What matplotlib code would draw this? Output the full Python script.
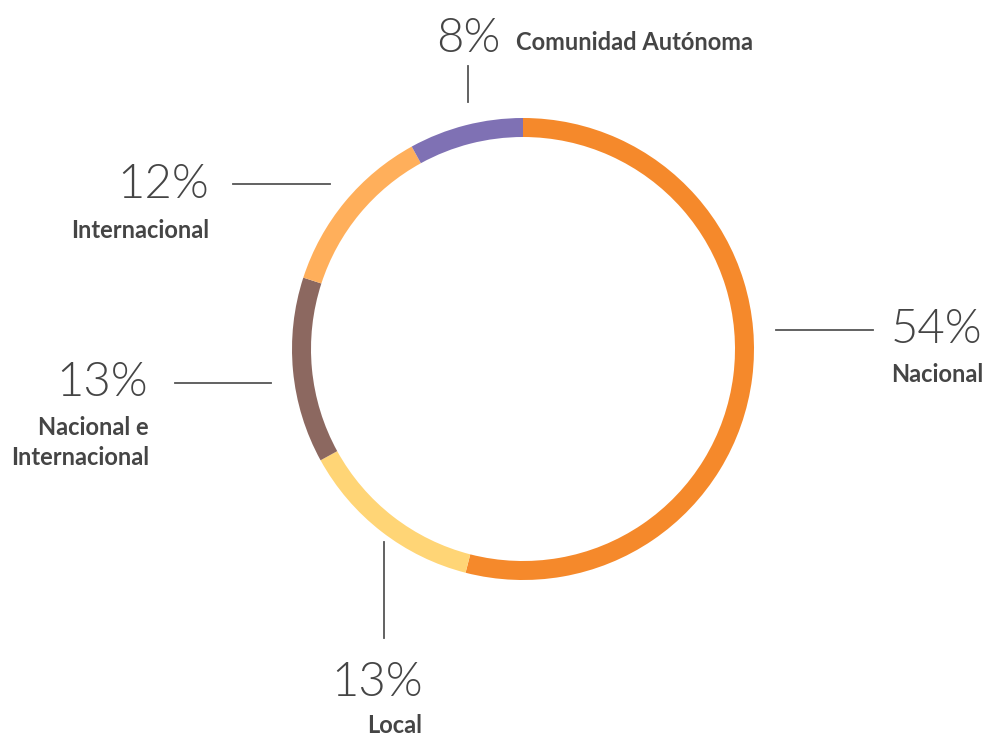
import matplotlib
matplotlib.use("Agg")
import matplotlib.pyplot as plt

# Share of entities by scope of activity
categories = ["Nacional", "Local", "Nacional e\nInternacional", "Internacional", "Comunidad Autónoma"]
values = [54, 13, 13, 12, 8]
colors = ["#F5892B", "#FFD576", "#8C6860", "#FFAF5B", "#7F71B4"]
pct_labels = [f"{v}%" for v in values]

W, H = 986, 736
fig = plt.figure(figsize=(W / 100, H / 100), dpi=100)
ax = fig.add_axes([0, 0, 1, 1])
ax.axis("off")

cx, cy = 523, H - 349
ax.pie(values, colors=colors, radius=231, center=(cx, cy), startangle=90,
       counterclock=False, wedgeprops=dict(width=19, linewidth=0))
ax.set_xlim(0, W)
ax.set_ylim(0, H)
ax.set_aspect("equal")

text_color = "#454545"
line_color = "#555555"
pct_kw = dict(fontfamily="Lato", fontweight=300, fontsize=34, color=text_color, va="baseline")
lab_kw = dict(fontfamily="Lato", fontweight=700, fontsize=17, color=text_color, va="baseline")


def y(p):
    return H - p


# Nacional
ax.plot([776, 873], [y(330), y(330)], color=line_color, lw=1.3)
ax.text(937, y(343), pct_labels[0], ha="center", **pct_kw)
ax.text(983, y(382), categories[0], ha="right", **lab_kw)

# Local
ax.plot([384, 384], [y(542), y(638)], color=line_color, lw=1.3)
ax.text(377, y(696), pct_labels[1], ha="center", **pct_kw)
ax.text(395, y(733), categories[1], ha="center", **lab_kw)

# Nacional e Internacional
ax.plot([175, 271], [y(383), y(383)], color=line_color, lw=1.3)
ax.text(148, y(396), pct_labels[2], ha="right", **pct_kw)
first, second = categories[2].split("\n")
ax.text(149, y(435), first, ha="right", **lab_kw)
ax.text(149, y(465), second, ha="right", **lab_kw)

# Internacional
ax.plot([233, 330], [y(184), y(184)], color=line_color, lw=1.3)
ax.text(209, y(198), pct_labels[3], ha="right", **pct_kw)
ax.text(209, y(238), categories[3], ha="right", **lab_kw)

# Comunidad Autónoma
ax.plot([468, 468], [y(66), y(102)], color=line_color, lw=1.3)
ax.text(468, y(52), pct_labels[4], ha="center", **pct_kw)
ax.text(516, y(50), categories[4], ha="left", **lab_kw)

fig.savefig("out.png", dpi=100, facecolor="white")
